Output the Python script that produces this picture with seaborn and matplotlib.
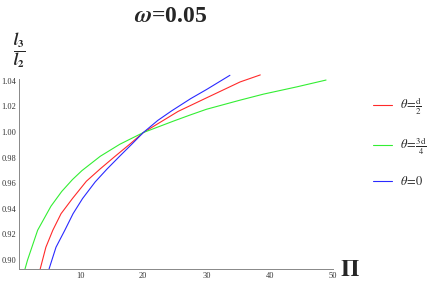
import matplotlib
matplotlib.use('Agg')
import matplotlib.pyplot as plt
import seaborn as sns
import pandas as pd

# values
pi_half = [3.7, 4.6, 5.7, 7.0, 8.8, 11.0, 13.2, 15.5, 18.0, 20.0, 22.5, 25.5, 30.0, 35.3, 38.5]
ratio_half = [0.893, 0.910, 0.9233, 0.9362, 0.948, 0.9615, 0.9712, 0.9808, 0.991, 0.9995,
              1.007, 1.016, 1.0266, 1.039, 1.0445]

pi_3q = [1.3, 1.7, 3.3, 5.4, 7.1, 8.8, 10.3, 13.2, 16.3, 20.0, 24.8, 27.4, 30.0, 35.3, 39.0, 44.3, 48.9]
ratio_3q = [0.893, 0.900, 0.9233, 0.942, 0.9535, 0.9628, 0.9698, 0.981, 0.9904, 0.9995,
            1.0085, 1.0132, 1.0177, 1.0248, 1.0295, 1.0352, 1.0405]

pi_zero = [5.1, 6.2, 7.6, 8.9, 10.4, 12.4, 14.3, 16.3, 18.2, 20.0, 22.3, 24.5, 27.5, 30.0, 33.7]
ratio_zero = [0.893, 0.910, 0.9233, 0.9362, 0.948, 0.961, 0.9712, 0.9812, 0.9905, 0.9995,
              1.009, 1.0165, 1.026, 1.0331, 1.0442]

labels = [r'$\theta\!=\!\frac{\mathrm{d}}{2}$', r'$\theta\!=\!\frac{3\,\mathrm{d}}{4}$', r'$\theta\!=\!0$']
colors = ['#ff2a2a', '#33ee33', '#2a2aff']

df = pd.concat([
    pd.DataFrame({'Pi': pi_half, 'ratio': ratio_half, 'theta': labels[0]}),
    pd.DataFrame({'Pi': pi_3q, 'ratio': ratio_3q, 'theta': labels[1]}),
    pd.DataFrame({'Pi': pi_zero, 'ratio': ratio_zero, 'theta': labels[2]}),
])

sns.set_style('white')
plt.rcParams['font.family'] = ['Liberation Serif', 'DejaVu Serif']
plt.rcParams['mathtext.fontset'] = 'stix'

fig = plt.figure(figsize=(4.36, 2.84), dpi=100)
ax = fig.add_axes([19 / 436, 15 / 284, 314 / 436, 196 / 284])

sns.lineplot(data=df, x='Pi', y='ratio', hue='theta', hue_order=labels,
             palette=colors, linewidth=0.8, sort=False, estimator=None, ax=ax)

ax.set_xlim(0.35, 50)
ax.set_ylim(0.893, 1.046)
ax.set_xticks([10, 20, 30, 40, 50])
ax.set_xticks([x for x in range(2, 50, 2) if x % 10], minor=True)
major_y = [0.90, 0.92, 0.94, 0.96, 0.98, 1.00, 1.02, 1.04]
ax.set_yticks(major_y)
minor_y = [0.895 + 0.005 * i for i in range(30)]
ax.set_yticks([v for v in minor_y if min(abs(v - m) for m in major_y) > 1e-4 and v < 1.042], minor=True)
ax.yaxis.set_major_formatter(matplotlib.ticker.FormatStrFormatter('%.2f'))

for s in ['top', 'right']:
    ax.spines[s].set_visible(False)
for s in ['left', 'bottom']:
    ax.spines[s].set_color('#888888')
    ax.spines[s].set_linewidth(0.7)
ax.spines['left'].set_bounds(0.893, 1.0416)

ax.tick_params(which='major', direction='in', length=4, width=0.6, color='#888888',
               labelsize=6, labelcolor='#333333', pad=2)
ax.tick_params(which='minor', direction='in', length=2, width=0.5, color='#999999')
ax.set_xlabel('')
ax.set_ylabel('')

fig.text(171 / 436, 1 - 17 / 284, r'$\mathbfit{\omega}$=0.05', ha='center', va='center',
         fontsize=17, fontweight='bold')
fig.text(19 / 436, 1 - 52 / 284, r'$\frac{\mathbfit{l}_{\mathbf{3}}}{\mathbfit{l}_{\mathbf{2}}}$',
         ha='center', va='center', fontsize=16)
fig.text(350 / 436, 1 - 270 / 284, r'$\mathbf{\Pi}$', ha='center', va='center', fontsize=17)

leg = ax.legend(loc='center left', bbox_to_anchor=(362 / 436, 1 - 142 / 284),
                bbox_transform=fig.transFigure, frameon=False, fontsize=9,
                handlelength=1.5, labelspacing=1.5, handletextpad=0.65)

fig.savefig('out.png', dpi=100)
